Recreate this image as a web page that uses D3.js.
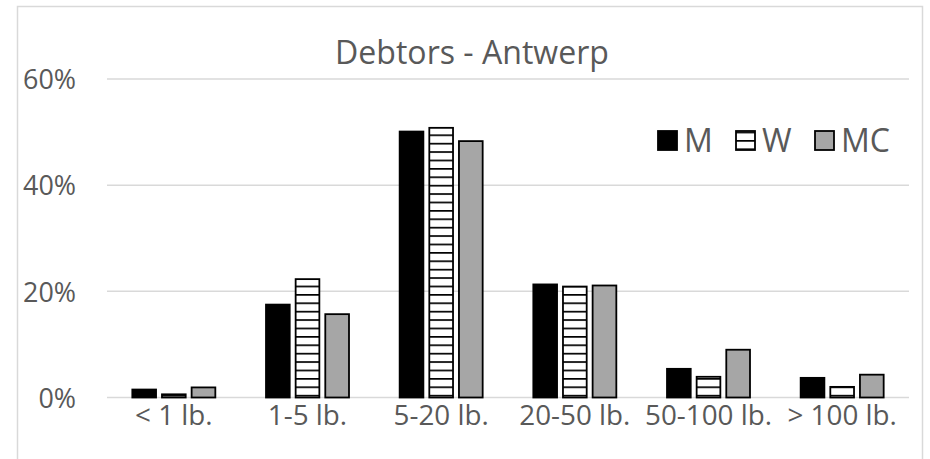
<!DOCTYPE html>
<html>
<head>
<meta charset="utf-8">
<script src="https://cdn.jsdelivr.net/npm/d3@7"></script>
<style>
  html, body { margin: 0; padding: 0; background: #fff; }
  svg { display: block; }
  text { font-family: "Open Sans", sans-serif; fill: #595959; }
</style>
</head>
<body>
<svg id="chart" width="930" height="459"></svg>
<script>
// Debt size classes and share of debtors per group
const categories = ["< 1 lb.", "1-5 lb.", "5-20 lb.", "20-50 lb.", "50-100 lb.", "> 100 lb."];
const seriesNames = ["M", "W", "MC"];
const valuesM  = [0.015, 0.175, 0.501, 0.213, 0.054, 0.037];
const valuesW  = [0.006, 0.223, 0.508, 0.209, 0.039, 0.020];
const valuesMC = [0.019, 0.157, 0.483, 0.211, 0.090, 0.043];
const yTicks = [0, 0.2, 0.4, 0.6];
const title = "Debtors - Antwerp";

const seriesValues = { M: valuesM, W: valuesW, MC: valuesMC };

const svg = d3.select("#chart");
const plot = { left: 107, right: 909, top: 79, bottom: 397.5 };

// scale a text selection's font size so that a reference string spans a given width
function fitFont(sel, sample, width) {
  const probe = svg.append("text").style("font-size", "100px").text(sample);
  const w = probe.node().getComputedTextLength();
  probe.remove();
  sel.style("font-size", (100 * width / w).toFixed(2) + "px");
}

// chart frame
svg.append("rect")
  .attr("x", 17.5).attr("y", 6.5)
  .attr("width", 905).attr("height", 520)
  .attr("fill", "#fff").attr("stroke", "#d9d9d9").attr("stroke-width", 1.5);

// horizontal stripe fill for the W series
const defs = svg.append("defs");
const pat = defs.append("pattern")
  .attr("id", "hstripe")
  .attr("patternUnits", "userSpaceOnUse")
  .attr("width", 8).attr("height", 8.4);
pat.append("rect").attr("width", 8).attr("height", 8.4).attr("fill", "#fff");
pat.append("rect").attr("y", 0).attr("width", 8).attr("height", 1.7).attr("fill", "#000");

const x0 = d3.scaleBand().domain(categories).range([plot.left, plot.right]);
const y = d3.scaleLinear().domain([0, 0.6]).range([plot.bottom, plot.top]);

// gridlines
svg.append("g").selectAll("line").data(yTicks).join("line")
  .attr("x1", plot.left).attr("x2", plot.right)
  .attr("y1", d => y(d)).attr("y2", d => y(d))
  .attr("stroke", "#d9d9d9").attr("stroke-width", 1.5);

// y axis labels
const yAxis = d3.axisLeft(y).tickValues(yTicks).tickFormat(d3.format(".0%")).tickSize(0).tickPadding(0);
const gy = svg.append("g").attr("transform", "translate(76,0)").call(yAxis);
gy.select(".domain").remove();
gy.selectAll("text").attr("fill", "#595959").attr("dy", "0.36em")
  .attr("font-family", null);
fitFont(gy.selectAll("text"), "60%", 53);

// x axis labels
const xAxis = d3.axisBottom(x0).tickSize(0).tickPadding(0);
const gx = svg.append("g").attr("transform", "translate(0,399)").call(xAxis);
gx.select(".domain").remove();
gx.selectAll("text").attr("fill", "#595959").attr("dy", "0.95em")
  .attr("font-family", null);
fitFont(gx.selectAll("text"), "50-100 lb.", 127);

// bars
const groupWidth = 83;
const x1 = d3.scaleBand().domain(seriesNames).range([0, groupWidth]).paddingInner(0.2);
const fills = { M: "#000", W: "url(#hstripe)", MC: "#a6a6a6" };

const groups = svg.append("g").selectAll("g").data(categories).join("g")
  .attr("transform", d => `translate(${x0(d) + x0.bandwidth() / 2 - groupWidth / 2},0)`);

groups.selectAll("rect")
  .data((c, i) => seriesNames.map(s => ({ s, v: seriesValues[s][i] })))
  .join("rect")
  .attr("x", d => x1(d.s))
  .attr("y", d => y(d.v))
  .attr("width", x1.bandwidth())
  .attr("height", d => y(0) - y(d.v))
  .attr("fill", d => fills[d.s])
  .attr("stroke", "#000")
  .attr("stroke-width", 1.8);

// title
const titleText = svg.append("text")
  .attr("x", 472).attr("y", 64)
  .attr("text-anchor", "middle")
  .text(title);
fitFont(titleText, title, 274);

// legend
const legend = svg.append("g").attr("transform", "translate(658,140)");
const legendX = { M: 0, W: 78, MC: 157 };
const lg = legend.selectAll("g").data(seriesNames).join("g")
  .attr("transform", d => `translate(${legendX[d]},0)`);
lg.append("rect")
  .attr("x", 0).attr("y", -9).attr("width", 19).attr("height", 19)
  .attr("fill", d => fills[d]).attr("stroke", "#000").attr("stroke-width", 1.8);
const lt = lg.append("text")
  .attr("x", 26).attr("y", 0).attr("dy", "0.36em")
  .text(d => d);
fitFont(lt, "MC", 49);
</script>
</body>
</html>
